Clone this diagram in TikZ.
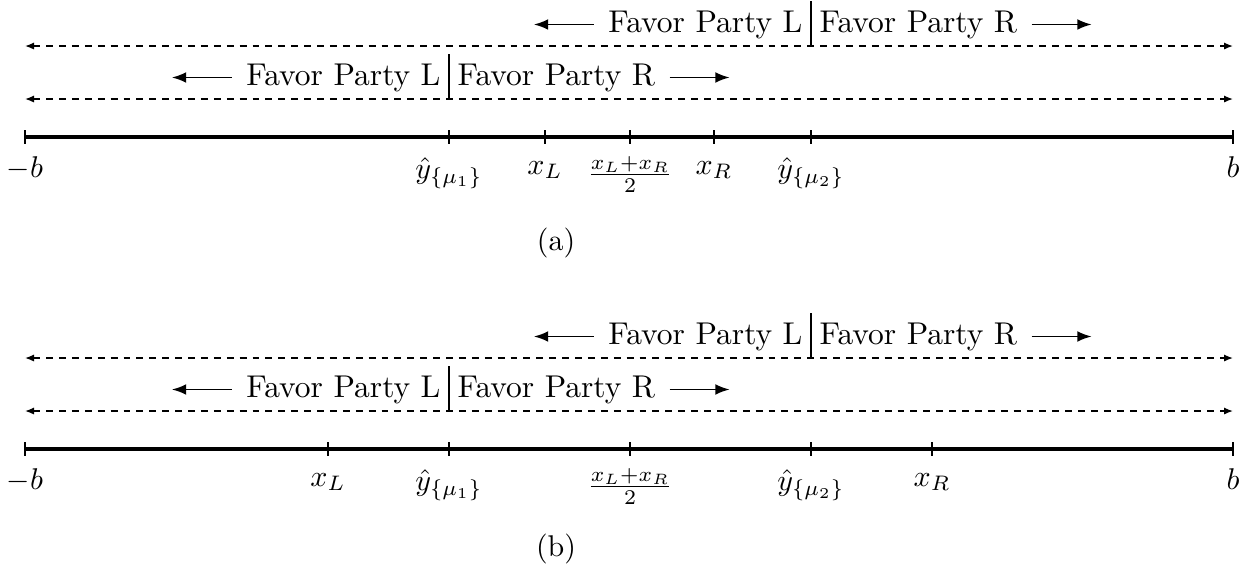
\documentclass[tikz,border=0pt]{standalone}
\usetikzlibrary{arrows.meta}
\begin{document}
\begin{tikzpicture}[x=0.33333pt,y=-0.33333pt,
  axisline/.style={line width=1.2pt},
  tickmark/.style={line width=0.6pt},
  dline/.style={line width=0.5pt, dash pattern=on 2.3pt off 2pt,
    {Latex[length=3pt,width=2.4pt]}-{Latex[length=3pt,width=2.4pt]}},
  farrow/.style={line width=0.65pt, -{Latex[length=4.8pt,width=3.6pt]}},
  barline/.style={line width=0.6pt},
  ftext/.style={inner sep=0pt, font=\fontsize{10.5}{12.6}\selectfont},
  tlbl/.style={anchor=base, inner sep=0pt},
  captext/.style={inner sep=0pt}]
\useasboundingbox (0,0) rectangle (1255,569);

% ---------- panel (a) ----------
\begin{scope}
  \coordinate (a-d1l) at (25,46);  \coordinate (a-d1r) at (1233,46);
  \coordinate (a-d2l) at (25,99);  \coordinate (a-d2r) at (1233,99);
  \draw[dline] (a-d1l) -- (a-d1r);
  \draw[dline] (a-d2l) -- (a-d2r);
  % row 1
  \node[ftext, anchor=base east] (a-t1l) at (803,32) {Favor Party L};
  \node[ftext, anchor=base west] (a-t1r) at (819,32) {Favor Party R};
  \coordinate (a-b1t) at (811,1); \coordinate (a-b1b) at (811,46);
  \draw[barline] (a-b1t) -- (a-b1b);
  \draw[farrow] ([xshift=-4.67pt]a-t1l.west) -- ++(-60,0);
  \draw[farrow] ([xshift=4.67pt]a-t1r.east) -- ++(60,0);
  % row 2
  \node[ftext, anchor=base east] (a-t2l) at (441,85) {Favor Party L};
  \node[ftext, anchor=base west] (a-t2r) at (457,85) {Favor Party R};
  \coordinate (a-b2t) at (449,54); \coordinate (a-b2b) at (449,99);
  \draw[barline] (a-b2t) -- (a-b2b);
  \draw[farrow] ([xshift=-4.67pt]a-t2l.west) -- ++(-60,0);
  \draw[farrow] ([xshift=4.67pt]a-t2r.east) -- ++(60,0);
  % axis
  \coordinate (a-l) at (25,137); \coordinate (a-r) at (1233,137);
  \draw[axisline] (a-l) -- (a-r);
  \foreach \x in {25,449,545,630,714,811,1233} {\draw[tickmark] (\x,130) -- (\x,144);}
  \node[tlbl] (a-lb) at (25,177) {$-b$};
  \node[tlbl] (a-ly1) at (449,178) {$\hat{y}_{\{\mu_1\}}$};
  \node[tlbl] (a-lxl) at (545,174) {$x_L$};
  \node[tlbl] (a-lmid) at (630,182) {$\frac{x_L+x_R}{2}$};
  \node[tlbl] (a-lxr) at (714,174) {$x_R$};
  \node[tlbl] (a-ly2) at (811,178) {$\hat{y}_{\{\mu_2\}}$};
  \node[tlbl] (a-lbr) at (1233,177) {$b$};
  \node[captext] (a-cap) at (556,243) {(a)};
\end{scope}

% ---------- panel (b) ----------
\begin{scope}[shift={(0,312)}]
  \coordinate (b-d1l) at (25,46);  \coordinate (b-d1r) at (1233,46);
  \coordinate (b-d2l) at (25,99);  \coordinate (b-d2r) at (1233,99);
  \draw[dline] (b-d1l) -- (b-d1r);
  \draw[dline] (b-d2l) -- (b-d2r);
  % row 1
  \node[ftext, anchor=base east] (b-t1l) at (803,32) {Favor Party L};
  \node[ftext, anchor=base west] (b-t1r) at (819,32) {Favor Party R};
  \coordinate (b-b1t) at (811,1); \coordinate (b-b1b) at (811,46);
  \draw[barline] (b-b1t) -- (b-b1b);
  \draw[farrow] ([xshift=-4.67pt]b-t1l.west) -- ++(-60,0);
  \draw[farrow] ([xshift=4.67pt]b-t1r.east) -- ++(60,0);
  % row 2
  \node[ftext, anchor=base east] (b-t2l) at (441,85) {Favor Party L};
  \node[ftext, anchor=base west] (b-t2r) at (457,85) {Favor Party R};
  \coordinate (b-b2t) at (449,54); \coordinate (b-b2b) at (449,99);
  \draw[barline] (b-b2t) -- (b-b2b);
  \draw[farrow] ([xshift=-4.67pt]b-t2l.west) -- ++(-60,0);
  \draw[farrow] ([xshift=4.67pt]b-t2r.east) -- ++(60,0);
  % axis
  \coordinate (b-l) at (25,137); \coordinate (b-r) at (1233,137);
  \draw[axisline] (b-l) -- (b-r);
  \foreach \x in {25,328,449,630,811,932,1233} {\draw[tickmark] (\x,130) -- (\x,144);}
  \node[tlbl] (b-lb) at (25,177) {$-b$};
  \node[tlbl] (b-lxl) at (328,174) {$x_L$};
  \node[tlbl] (b-ly1) at (449,178) {$\hat{y}_{\{\mu_1\}}$};
  \node[tlbl] (b-lmid) at (630,182) {$\frac{x_L+x_R}{2}$};
  \node[tlbl] (b-ly2) at (811,178) {$\hat{y}_{\{\mu_2\}}$};
  \node[tlbl] (b-lxr) at (932,174) {$x_R$};
  \node[tlbl] (b-lbr) at (1233,177) {$b$};
\end{scope}
\node[captext] (b-cap) at (556,549) {(b)};
\end{tikzpicture}
\end{document}
